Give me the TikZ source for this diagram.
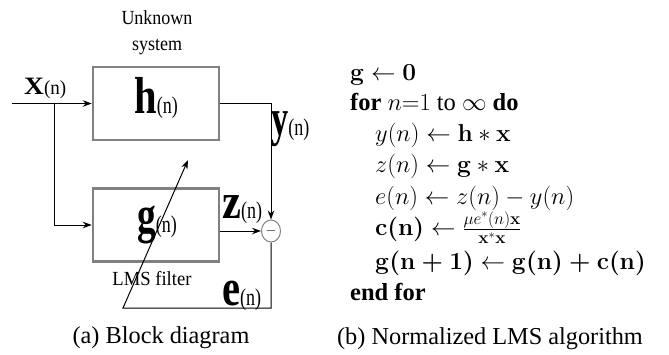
\RequirePackage{fix-cm}
\documentclass[tikz,border=0pt]{standalone}
\usepackage{bm}
\usepackage[no-math]{fontspec}
\setmainfont{Liberation Serif}
\usetikzlibrary{arrows.meta,shapes.geometric}
\newcommand{\sq}[2]{\scalebox{#1}[1]{#2}}
\newcommand{\biglet}[3]{\sq{#2}{\fontsize{#1}{#1}\selectfont\bfseries #3}}
\newcommand{\nsub}{\sq{0.75}{\fontsize{24}{24}\selectfont\mdseries(n)}}
\newcommand{\bb}[1]{\mbox{\boldmath$\mathbf{#1}$}}
\tikzset{
  box/.style={draw=black!50, line width=2.5pt, minimum width=126pt, minimum height=72pt, inner sep=0pt},
  wire/.style={line width=1pt, black},
  arr/.style={wire, -{Stealth[length=9pt,width=6.5pt]}},
  lbl/.style={inner sep=0pt, anchor=base west},
  small/.style={inner sep=0pt, font=\fontsize{20}{20}\selectfont},
  alg/.style={inner sep=0pt, anchor=base west, font=\fontsize{24.5}{29}\selectfont},
  capt/.style={inner sep=0pt, anchor=base, font=\fontsize{24.3}{29}\selectfont}
}
\begin{document}
\begin{tikzpicture}[x=1pt,y=-1pt]
\useasboundingbox (0,0) rectangle (669,354);
% blocks
\node[box, minimum height=73pt] (h) at (156,103.5) {};
\node[box, minimum height=73pt] (g) at (156,225) {};
\node[ellipse, draw=black!50, line width=1pt, minimum width=19pt, minimum height=22pt, inner sep=0pt] (sum) at (271,231) {\fontsize{14}{14}\selectfont$-$};
% texts left
\node[small] (unk) at (157,18) {\sq{0.9}{Unknown}};
\node[small] (sys) at (157,47) {\sq{0.9}{system}};
\node[small] (lms) at (152,279) {\sq{0.93}{LMS filter}};
\node[lbl] (hl) at (134,113) {\biglet{52}{0.78}{h}\nsub};
\node[lbl] (gl) at (137,232) {\biglet{52}{0.72}{g}\nsub};
\node[lbl] (xl) at (24,94) {\biglet{25}{1.1}{X}\sq{0.95}{\fontsize{20}{20}\selectfont(n)}};
\node[lbl] (yl) at (271,135) {\biglet{52}{0.66}{y}\nsub};
\node[lbl] (zl) at (222,218) {\biglet{50}{0.85}{z}\nsub};
\node[lbl] (el) at (222,305) {\biglet{52}{0.78}{e}\nsub};
% connectors
\coordinate (in) at (12,103.5);
\coordinate (br) at (54,103.5);
\coordinate (eL) at (123,308);
\coordinate (eT) at (188,160);
\draw[arr] (in) -- (h.west);
\draw[arr] (br) |- (g.west);
\draw[arr] (h.east) -| (sum.north);
\draw[arr] (g.east |- sum.west) -- (sum.west);
\draw[arr] (sum.south) |- (eL) -- (eT);
% algorithm
\node[alg] (l1) at (350,80) {$\mathbf{g}\leftarrow\mathbf{0}$};
\node[alg] (l2) at (350,110) {\textbf{for} $n{=}1$ to $\infty$ \textbf{do}};
\node[alg] (l3) at (375,141) {$y(n)\leftarrow\mathbf{h}*\mathbf{x}$};
\node[alg] (l4) at (375,172) {$z(n)\leftarrow\mathbf{g}*\mathbf{x}$};
\node[alg] (l5) at (375,204) {$e(n)\leftarrow z(n)-y(n)$};
\node[alg] (l6) at (375,235) {$\bb{c(n)}\leftarrow\frac{\mu e^*(n)\mathbf{x}}{\mathbf{x}^*\mathbf{x}}$};
\node[alg] (l7) at (375,269) {$\bb{g(n+1)}\leftarrow\bb{g(n)+c(n)}$};
\node[alg] (l8) at (350,300) {\textbf{end for}};
% captions
\node[capt] (ca) at (161,343) {(a) Block diagram};
\node[capt] (cb) at (490,344) {(b) Normalized LMS algorithm};
\end{tikzpicture}
\end{document}
